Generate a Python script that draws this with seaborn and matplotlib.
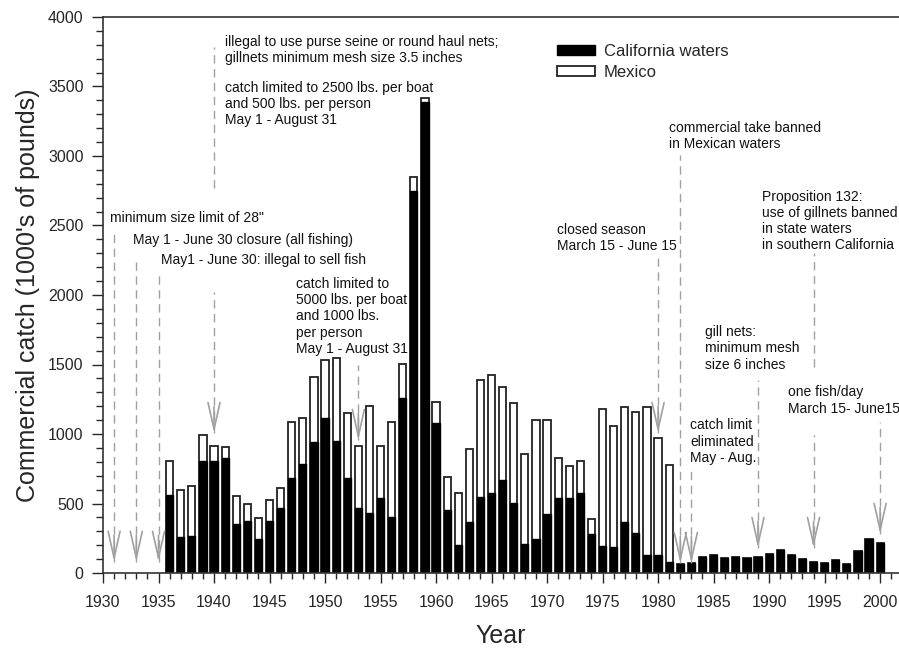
import numpy as np
import pandas as pd
import seaborn as sns
import matplotlib.pyplot as plt
from matplotlib.patches import Patch
from matplotlib.ticker import MultipleLocator

years = list(range(1936, 2001))
california = [559, 259, 264, 806, 803, 827, 353, 374, 247, 374,
              468, 686, 784, 942, 1117, 950, 686, 466, 429, 537,
              405, 1257, 2748, 3388, 1082, 453, 201, 367, 545, 573,
              669, 501, 206, 245, 424, 542, 542, 573, 278, 194,
              187, 365, 290, 127, 127, 77, 67, 75, 118, 127,
              105, 118, 105, 118, 137, 165, 129, 98, 82, 74,
              94, 62, 158, 245, 216]
total = [808, 600, 623, 995, 911, 904, 552, 499, 393, 523,
         614, 1083, 1112, 1410, 1533, 1545, 1150, 914, 1202, 914,
         1089, 1504, 2850, 3420, 1233, 693, 573, 891, 1388, 1428,
         1338, 1221, 858, 1101, 1101, 825, 770, 806, 388, 1180,
         1058, 1197, 1161, 1197, 969, 777, 67, 75, 118, 127,
         105, 118, 105, 118, 137, 165, 129, 98, 82, 74,
         94, 62, 158, 245, 216]
mexico = [t - c for t, c in zip(total, california)]

df = pd.DataFrame({"year": years, "California waters": california, "Mexico": mexico})
df["total"] = df["California waters"] + df["Mexico"]

# regulation events: year, dashed segments (from, to), arrow tip
event_years = [1931, 1933, 1935, 1940, 1953, 1980, 1982, 1983, 1989, 1994, 2000]
event_segments = [[(2475, 81)], [(2273, 81)], [(2144, 81)],
                  [(3784, 2770), (2020, 1007)], [(1500, 957)], [(2302, 1007)],
                  [(3007, 72)], [(763, 72)], [(1388, 180)],
                  [(2302, 1482), (993, 180)], [(1086, 281)]]
event_tips = [81, 81, 81, 1007, 957, 1007, 72, 72, 180, 180, 281]

notes = [
    (1930.63, 2554, 'minimum size limit of 28"'),
    (1932.7, 2396, "May 1 - June 30 closure (all fishing)"),
    (1935.18, 2252, "May1 - June 30: illegal to sell fish"),
    (1940.99, 3761, "illegal to use purse seine or round haul nets;\ngillnets minimum mesh size 3.5 inches"),
    (1940.99, 3373, "catch limited to 2500 lbs. per boat\nand 500 lbs. per person\nMay 1 - August 31"),
    (1947.39, 1846, "catch limited to\n5000 lbs. per boat\nand 1000 lbs.\nper person\nMay 1 - August 31"),
    (1970.9, 2411, "closed season\nMarch 15 - June 15"),
    (1980.99, 3144, "commercial take banned\nin Mexican waters"),
    (1982.88, 945, "catch limit\neliminated\nMay - Aug."),
    (1984.23, 1616, "gill nets:\nminimum mesh\nsize 6 inches"),
    (1989.37, 2532, "Proposition 132:\nuse of gillnets banned\nin state waters\nin southern California"),
    (1991.7, 1241, "one fish/day\nMarch 15- June15"),
]

sns.set_theme(style="ticks")
plt.rcParams["font.family"] = ["Liberation Sans", "DejaVu Sans"]

fig = plt.figure(figsize=(8.99, 6.5), dpi=100)
ax = fig.add_axes([103 / 899, 77 / 650, 1 - 103 / 899, (573 - 17) / 650])

sns.barplot(data=df, x="year", y="total", native_scale=True, color="white",
            edgecolor="#222222", linewidth=1.3, width=0.65, saturation=1,
            errorbar=None, ax=ax)
sns.barplot(data=df, x="year", y="California waters", native_scale=True, color="black",
            edgecolor="black", linewidth=1.0, width=0.65, saturation=1,
            errorbar=None, ax=ax)

# dashed guide lines with open arrow heads
for yr, segs, tip in zip(event_years, event_segments, event_tips):
    for top, bottom in segs:
        ax.vlines(yr, bottom, top, colors="#a0a0a0", linestyles=(0, (6, 4)), linewidth=1.0, zorder=1)
    ax.annotate("", xy=(yr, tip), xytext=(yr, tip + 190),
                arrowprops=dict(arrowstyle="->,head_length=1.6,head_width=0.36",
                                color="#a0a0a0", lw=1.2, shrinkA=0, shrinkB=0),
                zorder=3)

for x, y, s in notes:
    ax.text(x, y, s, fontsize=10, ha="left", va="center", color="#111111")

ax.set_xlim(1930, 2001.7)
ax.set_ylim(0, 4000)
ax.xaxis.set_major_locator(MultipleLocator(5))
ax.xaxis.set_minor_locator(MultipleLocator(1))
ax.yaxis.set_major_locator(MultipleLocator(500))
ax.yaxis.set_minor_locator(MultipleLocator(100))
ax.tick_params(axis="x", which="major", length=7, width=1, labelsize=11.5, pad=9)
ax.tick_params(axis="x", which="minor", length=4, width=1)
ax.tick_params(axis="y", which="major", length=8, width=1, labelsize=11.5, pad=6)
ax.tick_params(axis="y", which="minor", length=5, width=1)
ax.spines["right"].set_visible(False)
for side in ["left", "bottom", "top"]:
    ax.spines[side].set_color("#333333")
    ax.spines[side].set_linewidth(1.2)

ax.set_xlabel("Year", fontsize=18, labelpad=10)
ax.set_ylabel("Commercial catch (1000's of pounds)", fontsize=18, labelpad=6)

handles = [Patch(facecolor="black", edgecolor="black", label="California waters"),
           Patch(facecolor="white", edgecolor="#222222", linewidth=1.3, label="Mexico")]
ax.legend(handles=handles, loc="upper left", bbox_to_anchor=((557 - 103) / 796, 1 - 27 / 556),
          frameon=False, fontsize=12, handlelength=2.3, handleheight=0.5,
          handletextpad=0.5, labelspacing=0.35, borderpad=0, borderaxespad=0)

fig.savefig("out.png", dpi=100)
